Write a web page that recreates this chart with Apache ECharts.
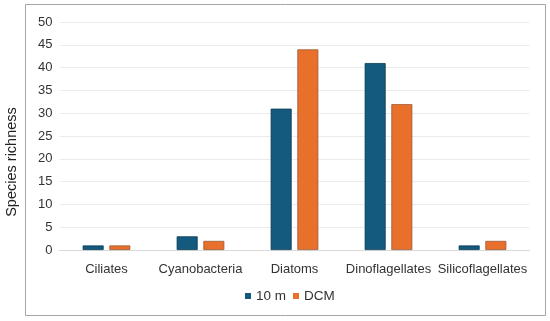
<!DOCTYPE html>
<html><head><meta charset="utf-8">
<script src="https://cdn.jsdelivr.net/npm/echarts@6/dist/echarts.min.js"></script>
<style>html,body{margin:0;padding:0;background:#fff}#c{width:550px;height:321px}</style>
</head><body><div id="c"></div>
<script>
const categories = ['Ciliates','Cyanobacteria','Diatoms','Dinoflagellates','Silicoflagellates'];
const s10m = [1, 3, 31, 41, 1];
const sDCM = [1, 2, 44, 32, 2];
const seriesNames = ['10 m', 'DCM'];
const yTitle = 'Species richness';
const yMin = 0, yMax = 50, yStep = 5;

const chart = echarts.init(document.getElementById('c'), null, {renderer:'canvas'});
const font = 'Liberation Sans, Arial, sans-serif';
chart.setOption({
  animation:false,
  backgroundColor:'#fff',
  graphic:[
    {type:'rect',shape:{x:25.5,y:4.5,width:520,height:311},style:{fill:'none',stroke:'#a6a6a6',lineWidth:1},silent:true},
    {type:'text',x:12,y:162,rotation:Math.PI/2,style:{text:yTitle,font:'14.5px '+font,fill:'#222',align:'center',verticalAlign:'middle'},silent:true}
  ],
  grid:{left:59.5,right:20.5,top:22,bottom:71,containLabel:false},
  legend:{data:seriesNames,top:284,left:240,itemWidth:6,itemHeight:6,itemGap:7,icon:'rect',
    itemStyle:{borderWidth:0},
    textStyle:{fontFamily:font,fontSize:13.5,color:'#333'}},
  xAxis:{type:'category',data:categories,axisTick:{show:false},
    axisLine:{lineStyle:{color:'#d9d9d9'}},
    axisLabel:{interval:0,fontFamily:font,fontSize:13,color:'#333',margin:13}},
  yAxis:{type:'value',min:yMin,max:yMax,interval:yStep,
    axisLine:{show:false},axisTick:{show:false},
    axisLabel:{fontFamily:font,fontSize:13,color:'#333',margin:7},
    splitLine:{lineStyle:{color:'#ebebeb'}}},
  series:[
    {name:seriesNames[0],type:'bar',data:s10m,barWidth:21,barGap:'27%',
     itemStyle:{color:'#135a7e',borderColor:'#0b3b55',borderWidth:0.8}},
    {name:seriesNames[1],type:'bar',data:sDCM,barWidth:21,
     itemStyle:{color:'#e8702a',borderColor:'#9a5a36',borderWidth:0.8}}
  ]
});
</script></body></html>
